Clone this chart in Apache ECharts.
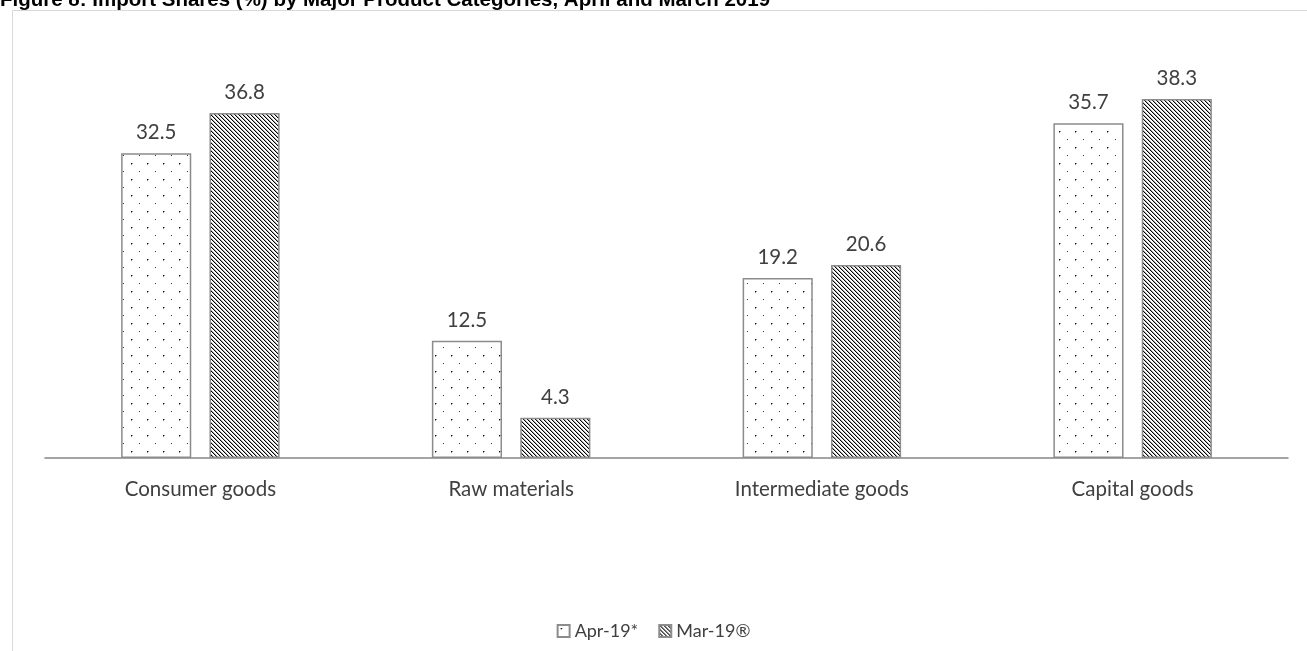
<!DOCTYPE html>
<html><head><meta charset="utf-8">
<script src="https://cdn.jsdelivr.net/npm/echarts@6/dist/echarts.min.js"></script>
<style>html,body{margin:0;padding:0;background:#fff}#c{width:1307px;height:651px}</style>
</head><body><div id="c"></div>
<script>
const categories = ["Consumer goods", "Raw materials", "Intermediate goods", "Capital goods"];
const seriesNames = ["Apr-19*", "Mar-19®"];
const apr19 = [32.5, 12.5, 19.2, 35.7];
const mar19 = [36.8, 4.3, 20.6, 38.3];
const titleText = "Figure 8: Import Shares (%) by Major Product Categories, April and March 2019";

function dotPattern() {
  const c = document.createElement('canvas'); c.width = 16; c.height = 16;
  const x = c.getContext('2d');
  x.fillStyle = '#fff'; x.fillRect(0, 0, 16, 16);
  x.fillStyle = '#000'; x.fillRect(3, 3, 1, 1);
  x.fillStyle = '#999'; x.fillRect(4, 3, 1, 1); x.fillRect(3, 4, 1, 1);
  x.fillStyle = '#333'; x.fillRect(11, 11, 1, 1);
  return c;
}
function hatchPattern() {
  const c = document.createElement('canvas'); c.width = 4; c.height = 4;
  const x = c.getContext('2d');
  x.fillStyle = '#fff'; x.fillRect(0, 0, 4, 4);
  for (let i = 0; i < 4; i++) {
    x.fillStyle = '#000'; x.fillRect(i, i, 1, 1);
    x.fillStyle = '#aaa'; x.fillRect((i + 1) % 4, i, 1, 1);
  }
  return c;
}
const dotFill = { image: dotPattern(), repeat: 'repeat' };
const hatchFill = { image: hatchPattern(), repeat: 'repeat' };

const font = 'Lato, "Open Sans", sans-serif';
const chart = echarts.init(document.getElementById('c'), null, { renderer: 'canvas' });
chart.setOption({
  animation: false,
  backgroundColor: '#fff',
  title: {
    text: titleText, left: 0, top: -10, padding: 0,
    textStyle: { fontFamily: '"Liberation Sans", Arial, sans-serif', fontWeight: 'bold', fontSize: 20.5, color: '#000' }
  },
  graphic: [{
    type: 'rect', shape: { x: 12.5, y: 10.5, width: 1310, height: 660 },
    style: { fill: 'none', stroke: '#d9d9d9', lineWidth: 1 }, z: -1
  }],
  legend: {
    data: seriesNames, top: 617, left: 'center', itemWidth: 12, itemHeight: 12, itemGap: 20, icon: 'rect',
    textStyle: { fontFamily: font, fontSize: 18, color: '#404040' }
  },
  grid: { left: 45, right: 19, top: 83, bottom: 193 },
  xAxis: {
    type: 'category', data: categories,
    axisLine: { lineStyle: { color: '#868686', width: 1.5 } },
    axisTick: { show: false },
    axisLabel: { margin: 21, fontFamily: font, fontSize: 20.5, color: '#404040' }
  },
  yAxis: { type: 'value', min: 0, max: 40, show: false, splitLine: { show: false } },
  series: [
    {
      name: seriesNames[0], type: 'bar', data: apr19, barGap: '26%', barCategoryGap: '49%',
      itemStyle: { color: dotFill, borderColor: '#8c8c8c', borderWidth: 1.5 },
      label: { show: true, position: 'top', distance: 10, fontFamily: font, fontSize: 20.5, color: '#404040', formatter: p => p.value.toFixed(1) }
    },
    {
      name: seriesNames[1], type: 'bar', data: mar19,
      itemStyle: { color: hatchFill, borderColor: '#8c8c8c', borderWidth: 1.5 },
      label: { show: true, position: 'top', distance: 10, fontFamily: font, fontSize: 20.5, color: '#404040', formatter: p => p.value.toFixed(1) }
    }
  ]
});
</script></body></html>
